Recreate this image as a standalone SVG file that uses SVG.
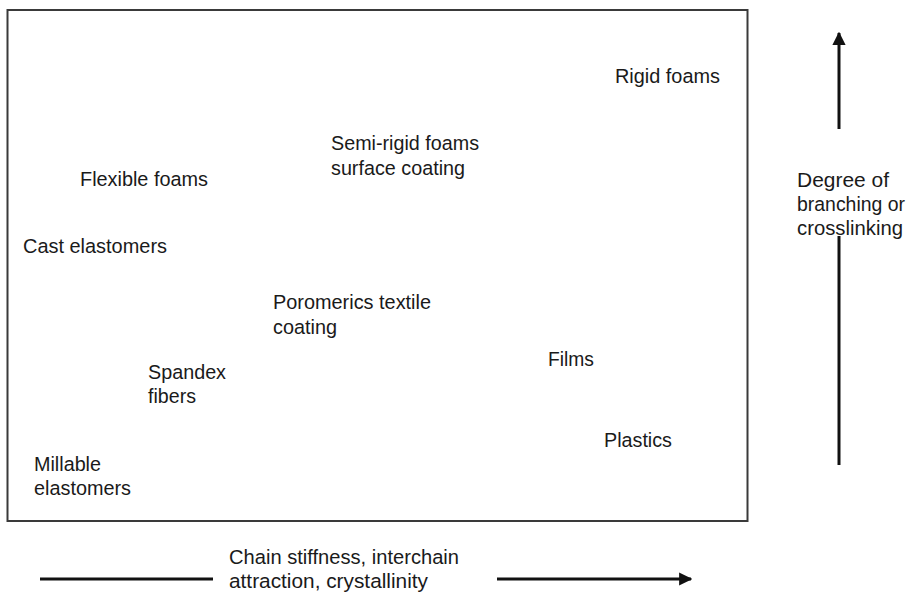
<svg xmlns="http://www.w3.org/2000/svg" width="912" height="599" viewBox="0 0 912 599">
<style>
.t{font-family:"Liberation Sans",Arial,sans-serif;font-size:20.5px;fill:#1a1a1a}
.ax{stroke:#111;stroke-width:3;fill:none}
</style>
<defs>
<marker id="ah" viewBox="0 0 10 10" refX="9" refY="5" markerWidth="4.4" markerHeight="4.8" orient="auto" markerUnits="strokeWidth">
<path d="M0,0 L10,5 L0,10 Z" fill="#111"/>
</marker>
</defs>
<rect x="0" y="0" width="912" height="599" fill="#fff"/>
<rect id="frame" x="7.5" y="10" width="740" height="511" fill="#fff" stroke="#3a3a3a" stroke-width="2"/>
<g id="connectors">
<line class="ax" x1="839" y1="465" x2="839" y2="236"/>
<line class="ax" x1="839" y1="129" x2="839" y2="33" marker-end="url(#ah)"/>
<line class="ax" x1="40" y1="579" x2="213" y2="579"/>
<line class="ax" x1="497" y1="579" x2="691" y2="579" marker-end="url(#ah)"/>
</g>
<g id="rigid-foams"><text class="t" x="615" y="83" textLength="105" lengthAdjust="spacingAndGlyphs">Rigid foams</text></g>
<g id="semi-rigid"><text class="t" x="331" y="150" textLength="148" lengthAdjust="spacingAndGlyphs">Semi-rigid foams</text><text class="t" x="331" y="175" textLength="134" lengthAdjust="spacingAndGlyphs">surface coating</text></g>
<g id="flexible-foams"><text class="t" x="80" y="186" textLength="128" lengthAdjust="spacingAndGlyphs">Flexible foams</text></g>
<g id="cast-elastomers"><text class="t" x="23" y="253" textLength="144" lengthAdjust="spacingAndGlyphs">Cast elastomers</text></g>
<g id="poromerics"><text class="t" x="273" y="309" textLength="158" lengthAdjust="spacingAndGlyphs">Poromerics textile</text><text class="t" x="273" y="334" textLength="64" lengthAdjust="spacingAndGlyphs">coating</text></g>
<g id="spandex"><text class="t" x="148" y="379" textLength="78" lengthAdjust="spacingAndGlyphs">Spandex</text><text class="t" x="148" y="403" textLength="48" lengthAdjust="spacingAndGlyphs">fibers</text></g>
<g id="films"><text class="t" x="548" y="366" textLength="46" lengthAdjust="spacingAndGlyphs">Films</text></g>
<g id="plastics"><text class="t" x="604" y="447" textLength="68" lengthAdjust="spacingAndGlyphs">Plastics</text></g>
<g id="millable"><text class="t" x="34" y="471" textLength="67" lengthAdjust="spacingAndGlyphs">Millable</text><text class="t" x="34" y="495" textLength="97" lengthAdjust="spacingAndGlyphs">elastomers</text></g>
<g id="y-label"><text class="t" x="797" y="187" textLength="92" lengthAdjust="spacingAndGlyphs">Degree of</text><text class="t" x="797" y="211" textLength="108" lengthAdjust="spacingAndGlyphs">branching or</text><text class="t" x="797" y="235" textLength="106" lengthAdjust="spacingAndGlyphs">crosslinking</text></g>
<g id="x-label"><text class="t" x="229" y="564" textLength="230" lengthAdjust="spacingAndGlyphs">Chain stiffness, interchain</text><text class="t" x="229" y="588" textLength="199" lengthAdjust="spacingAndGlyphs">attraction, crystallinity</text></g>
</svg>
